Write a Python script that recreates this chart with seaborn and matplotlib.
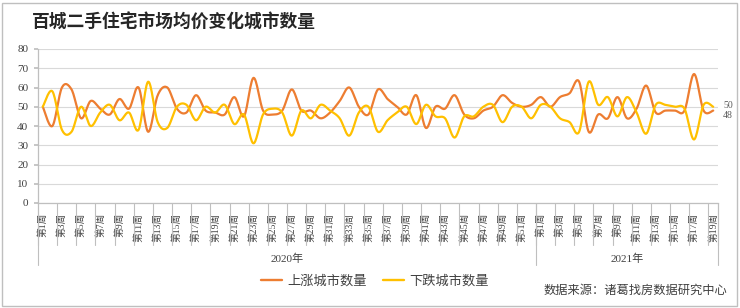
import numpy as np
import pandas as pd
import matplotlib
matplotlib.use("Agg")
import matplotlib.pyplot as plt
import matplotlib.transforms as mtransforms
from matplotlib.patches import Rectangle
from matplotlib.lines import Line2D
import seaborn as sns

# ---------------- data ----------------
title = "百城二手住宅市场均价变化城市数量"
years = ["2020年", "2021年"]
weeks_per_year = [52, 19]
series_names = ["上涨城市数量", "下跌城市数量"]
up = [50, 40, 60, 59, 44, 53, 49, 46, 54, 49, 60, 37, 56, 60, 49, 47, 56, 48, 47, 46,
      55, 45, 65, 48, 46, 48, 59, 48, 48, 44, 47, 53, 60, 50, 46, 59, 54, 50, 46, 56,
      39, 50, 49, 56, 46, 44, 48, 50, 56, 52, 50, 51, 55, 50, 55, 57, 63, 37, 46, 44,
      55, 44, 49, 61, 47, 48, 48, 48, 67, 48, 48]
down = [50, 58, 38, 37, 50, 40, 47, 51, 43, 47, 38, 63, 42, 39, 50, 51, 43, 50, 47, 51,
        41, 46, 31, 46, 49, 47, 35, 48, 44, 51, 48, 44, 35, 47, 50, 37, 43, 47, 50, 41,
        51, 45, 44, 34, 45, 45, 50, 51, 42, 50, 50, 44, 51, 50, 44, 42, 37, 63, 51, 55,
        45, 55, 47, 36, 51, 51, 50, 49, 33, 51, 50]
source = "数据来源：诸葛找房数据研究中心"
colors = ["#ED7D31", "#FFC000"]

# ---------------- helpers ----------------
def smooth(yv, n=16):
    """Excel-like smoothed line (Bezier with 1/6 tangents) through the points."""
    y = np.asarray(yv, float)
    x = np.arange(len(y), dtype=float)
    P = np.column_stack([x, y])
    Pp = np.vstack([P[0], P, P[-1]])
    xs, ys = [], []
    t = np.linspace(0, 1, n, endpoint=False)[:, None]
    for i in range(len(P) - 1):
        p0, p1, p2, p3 = Pp[i], Pp[i + 1], Pp[i + 2], Pp[i + 3]
        c1 = p1 + (p2 - p0) / 6.0
        c2 = p2 - (p3 - p1) / 6.0
        b = ((1 - t) ** 3) * p1 + 3 * ((1 - t) ** 2) * t * c1 + 3 * (1 - t) * t ** 2 * c2 + t ** 3 * p2
        xs.append(b[:, 0]); ys.append(b[:, 1])
    xs.append([P[-1, 0]]); ys.append([P[-1, 1]])
    return np.concatenate(xs), np.concatenate(ys)

frames = []
for name, vals in zip(series_names, [up, down]):
    sx, sy = smooth(vals)
    frames.append(pd.DataFrame({"x": sx, "y": sy, "series": name}))
df = pd.DataFrame(pd.concat(frames, ignore_index=True))

week_labels = []
for n in weeks_per_year:
    week_labels += [f"第{w}周" for w in range(1, n + 1)]
N = len(week_labels)

# ---------------- figure ----------------
sns.set_theme(style="white")
plt.rcParams["font.family"] = ["Noto Sans CJK SC", "DejaVu Sans"]
serif_cjk = ["Liberation Serif", "Noto Sans CJK SC"]

W, H = 740, 308
fig = plt.figure(figsize=(W / 100, H / 100), dpi=100)
ax = fig.add_axes([38 / W, 1 - 203 / H, 680 / W, 154 / H])

sns.lineplot(data=df, x="x", y="y", hue="series", palette=colors, sort=False,
             estimator=None, legend=False, linewidth=1.6, ax=ax)

ax.set_xlim(-0.5, N - 0.5)
ax.set_ylim(0, 80)
ax.set_yticks(range(0, 81, 10))
ax.set_yticklabels([str(v) for v in range(0, 81, 10)], fontfamily=serif_cjk,
                   fontsize=8, color="#404040")
ax.tick_params(axis="y", length=3, color="#BFBFBF", pad=4, left=True)
ax.grid(axis="y", color="#D9D9D9", linewidth=0.8)
ax.grid(axis="x", visible=False)
ax.set_xlabel(""); ax.set_ylabel("")
for s in ["top", "right"]:
    ax.spines[s].set_visible(False)
for s in ["left", "bottom"]:
    ax.spines[s].set_color("#BFBFBF")
    ax.spines[s].set_linewidth(0.9)

# x ticks: labels every other week
label_pos = []
label_txt = []
start = 0
for n in weeks_per_year:
    for k in range(0, n, 2):
        label_pos.append(start + k)
        label_txt.append(week_labels[start + k])
    start += n
ax.set_xticks(label_pos)
ax.set_xticklabels(label_txt, rotation=90, fontfamily=serif_cjk, fontsize=7,
                   color="#404040", va="top", ha="center")
ax.tick_params(axis="x", which="major", length=0, pad=7)
ax.set_xticks(np.arange(-0.5, N, 1), minor=True)
ax.tick_params(axis="x", which="minor", length=4, color="#BFBFBF", width=0.8)

blend = mtransforms.blended_transform_factory(ax.transData, ax.transAxes)
bounds = []
start = 0
for n in weeks_per_year:
    bounds += list(np.arange(start - 0.5, start + n - 0.5, 2))
    start += n
bounds.append(N - 0.5)
for b in bounds:
    ax.plot([b, b], [0, -42 / 154], transform=blend, color="#BFBFBF", lw=0.8, clip_on=False)
start = 0
year_bounds = [-0.5]
for yl, n in zip(years, weeks_per_year):
    ax.text(start + (n - 1) / 2, -56 / 154, yl, transform=blend, ha="center", va="center",
            fontfamily=serif_cjk, fontsize=8, color="#404040")
    start += n
    year_bounds.append(start - 0.5)
for b in year_bounds:
    ax.plot([b, b], [0, -62 / 154], transform=blend, color="#BFBFBF", lw=0.8, clip_on=False)

# end labels
ax.annotate(str(down[-1]), xy=(N - 1, down[-1]), xytext=(10, 1), textcoords="offset pixels",
            ha="left", va="center", fontsize=7, color="#595959", fontfamily=serif_cjk,
            annotation_clip=False)
ax.annotate(str(up[-1]), xy=(N - 1, up[-1]), xytext=(10, -4.5), textcoords="offset pixels",
            ha="left", va="center", fontsize=7, color="#595959", fontfamily=serif_cjk,
            annotation_clip=False)

# title, legend, source, frame
fig.text(32 / W, 1 - 23 / H, title, ha="left", va="center", fontsize=12.8,
         fontweight="bold", color="#262626")
handles = [Line2D([], [], color=c, lw=1.7) for c in colors]
fig.legend(handles, series_names, ncol=2, loc="center", bbox_to_anchor=(375 / W, 1 - 281 / H),
           frameon=False, fontsize=9.5, handlelength=1.6, handletextpad=0.4,
           columnspacing=1.2, labelcolor="#404040")
fig.text(727 / W, 1 - 290 / H, source, ha="right", va="center", fontsize=8.8,
         color="#404040", style="italic")
fig.patches.append(Rectangle((2 / W, 2 / H), 735 / W, 303 / H, transform=fig.transFigure,
                             fill=False, ec="#BFBFBF", lw=1))

fig.savefig("out.png", dpi=100)
